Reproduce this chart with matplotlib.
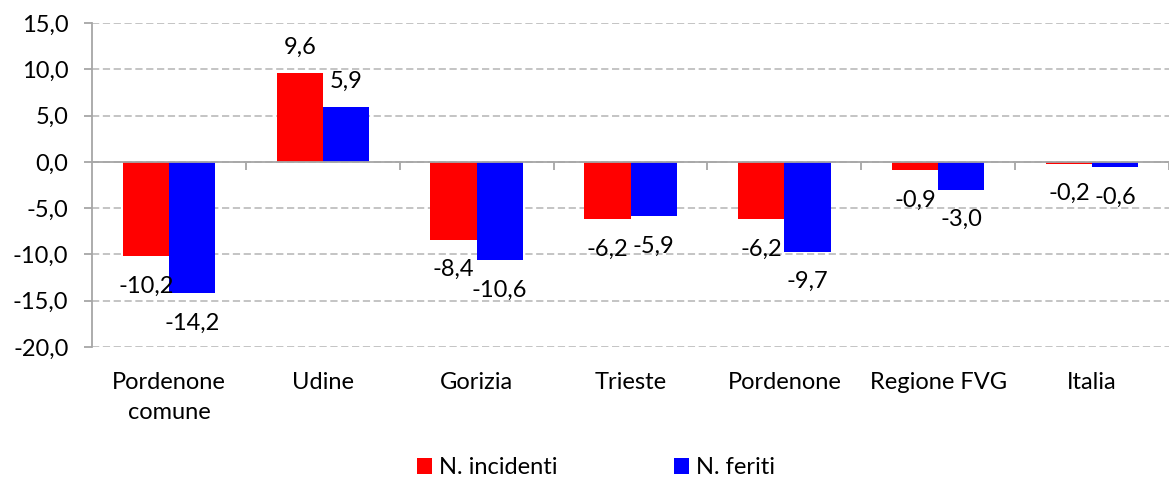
import matplotlib.pyplot as plt
import numpy as np

# dati
categorie = ['Pordenone\ncomune', 'Udine', 'Gorizia', 'Trieste',
             'Pordenone', 'Regione FVG', 'Italia']
incidenti = [-10.2, 9.6, -8.4, -6.2, -6.2, -0.9, -0.2]
feriti = [-14.2, 5.9, -10.6, -5.9, -9.7, -3.0, -0.6]
yticks = [15, 10, 5, 0, -5, -10, -15, -20]

plt.rcParams['font.family'] = ['Lato', 'DejaVu Sans']
FS = 17
GRIGIO = '#A6A6A6'

fig = plt.figure(figsize=(11.69, 4.79), dpi=100)
ax = fig.add_axes([92/1169, 1-347/479, 1-92/1169, (347-23)/479])

x = np.arange(len(categorie))
w = 0.30
b1 = ax.bar(x - w/2, incidenti, w, color='#FF0000', label='N. incidenti', zorder=3)
b2 = ax.bar(x + w/2, feriti, w, color='#0000FF', label='N. feriti', zorder=3)

def fmt(v):
    return f'{v:.1f}'.replace('.', ',')

# etichette dati
for bars, vals in [(b1, incidenti), (b2, feriti)]:
    for r, v in zip(bars, vals):
        off = 26 if v > 0 else -30
        ax.annotate(fmt(v), (r.get_x() + r.get_width()/2, v),
                    xytext=(0, off), textcoords='offset pixels',
                    ha='center', va='center', fontsize=FS, zorder=4)

ax.set_ylim(-20, 15)
ax.set_xlim(-0.5, 6.435)
ax.set_yticks(yticks)
ax.set_yticklabels([fmt(v) for v in yticks], fontsize=FS)
ax.yaxis.grid(True, color='#BFBFBF', linestyle=(0, (4, 2)), linewidth=1.3, zorder=0)
ax.set_axisbelow(True)

for s in ['top', 'right']:
    ax.spines[s].set_visible(False)
ax.spines['left'].set_color(GRIGIO)
ax.spines['left'].set_linewidth(1.3)
ax.spines['bottom'].set_position(('data', 0))
ax.spines['bottom'].set_color(GRIGIO)
ax.spines['bottom'].set_linewidth(1.3)
ax.spines['bottom'].set_zorder(5)
ax.set_xticks(np.arange(len(categorie)) + 0.5)
ax.tick_params(axis='x', length=6, width=1.3, color=GRIGIO, labelbottom=False)
ax.tick_params(axis='y', length=6, width=1.3, color=GRIGIO, pad=11)

# etichette categorie in basso
sec = ax.secondary_xaxis('bottom')
sec.set_xticks(x)
sec.set_xticklabels(categorie, fontsize=FS, linespacing=1.55)
sec.tick_params(length=0, pad=18)
sec.spines['bottom'].set_visible(False)

fig.legend(handles=[b1, b2], loc='center', bbox_to_anchor=(596/1169, 1-468/479),
           ncol=2, frameon=False, fontsize=FS, handlelength=0.65, handleheight=0.65,
           handletextpad=0.3, columnspacing=4.9)

fig.savefig('out.png', dpi=100)
